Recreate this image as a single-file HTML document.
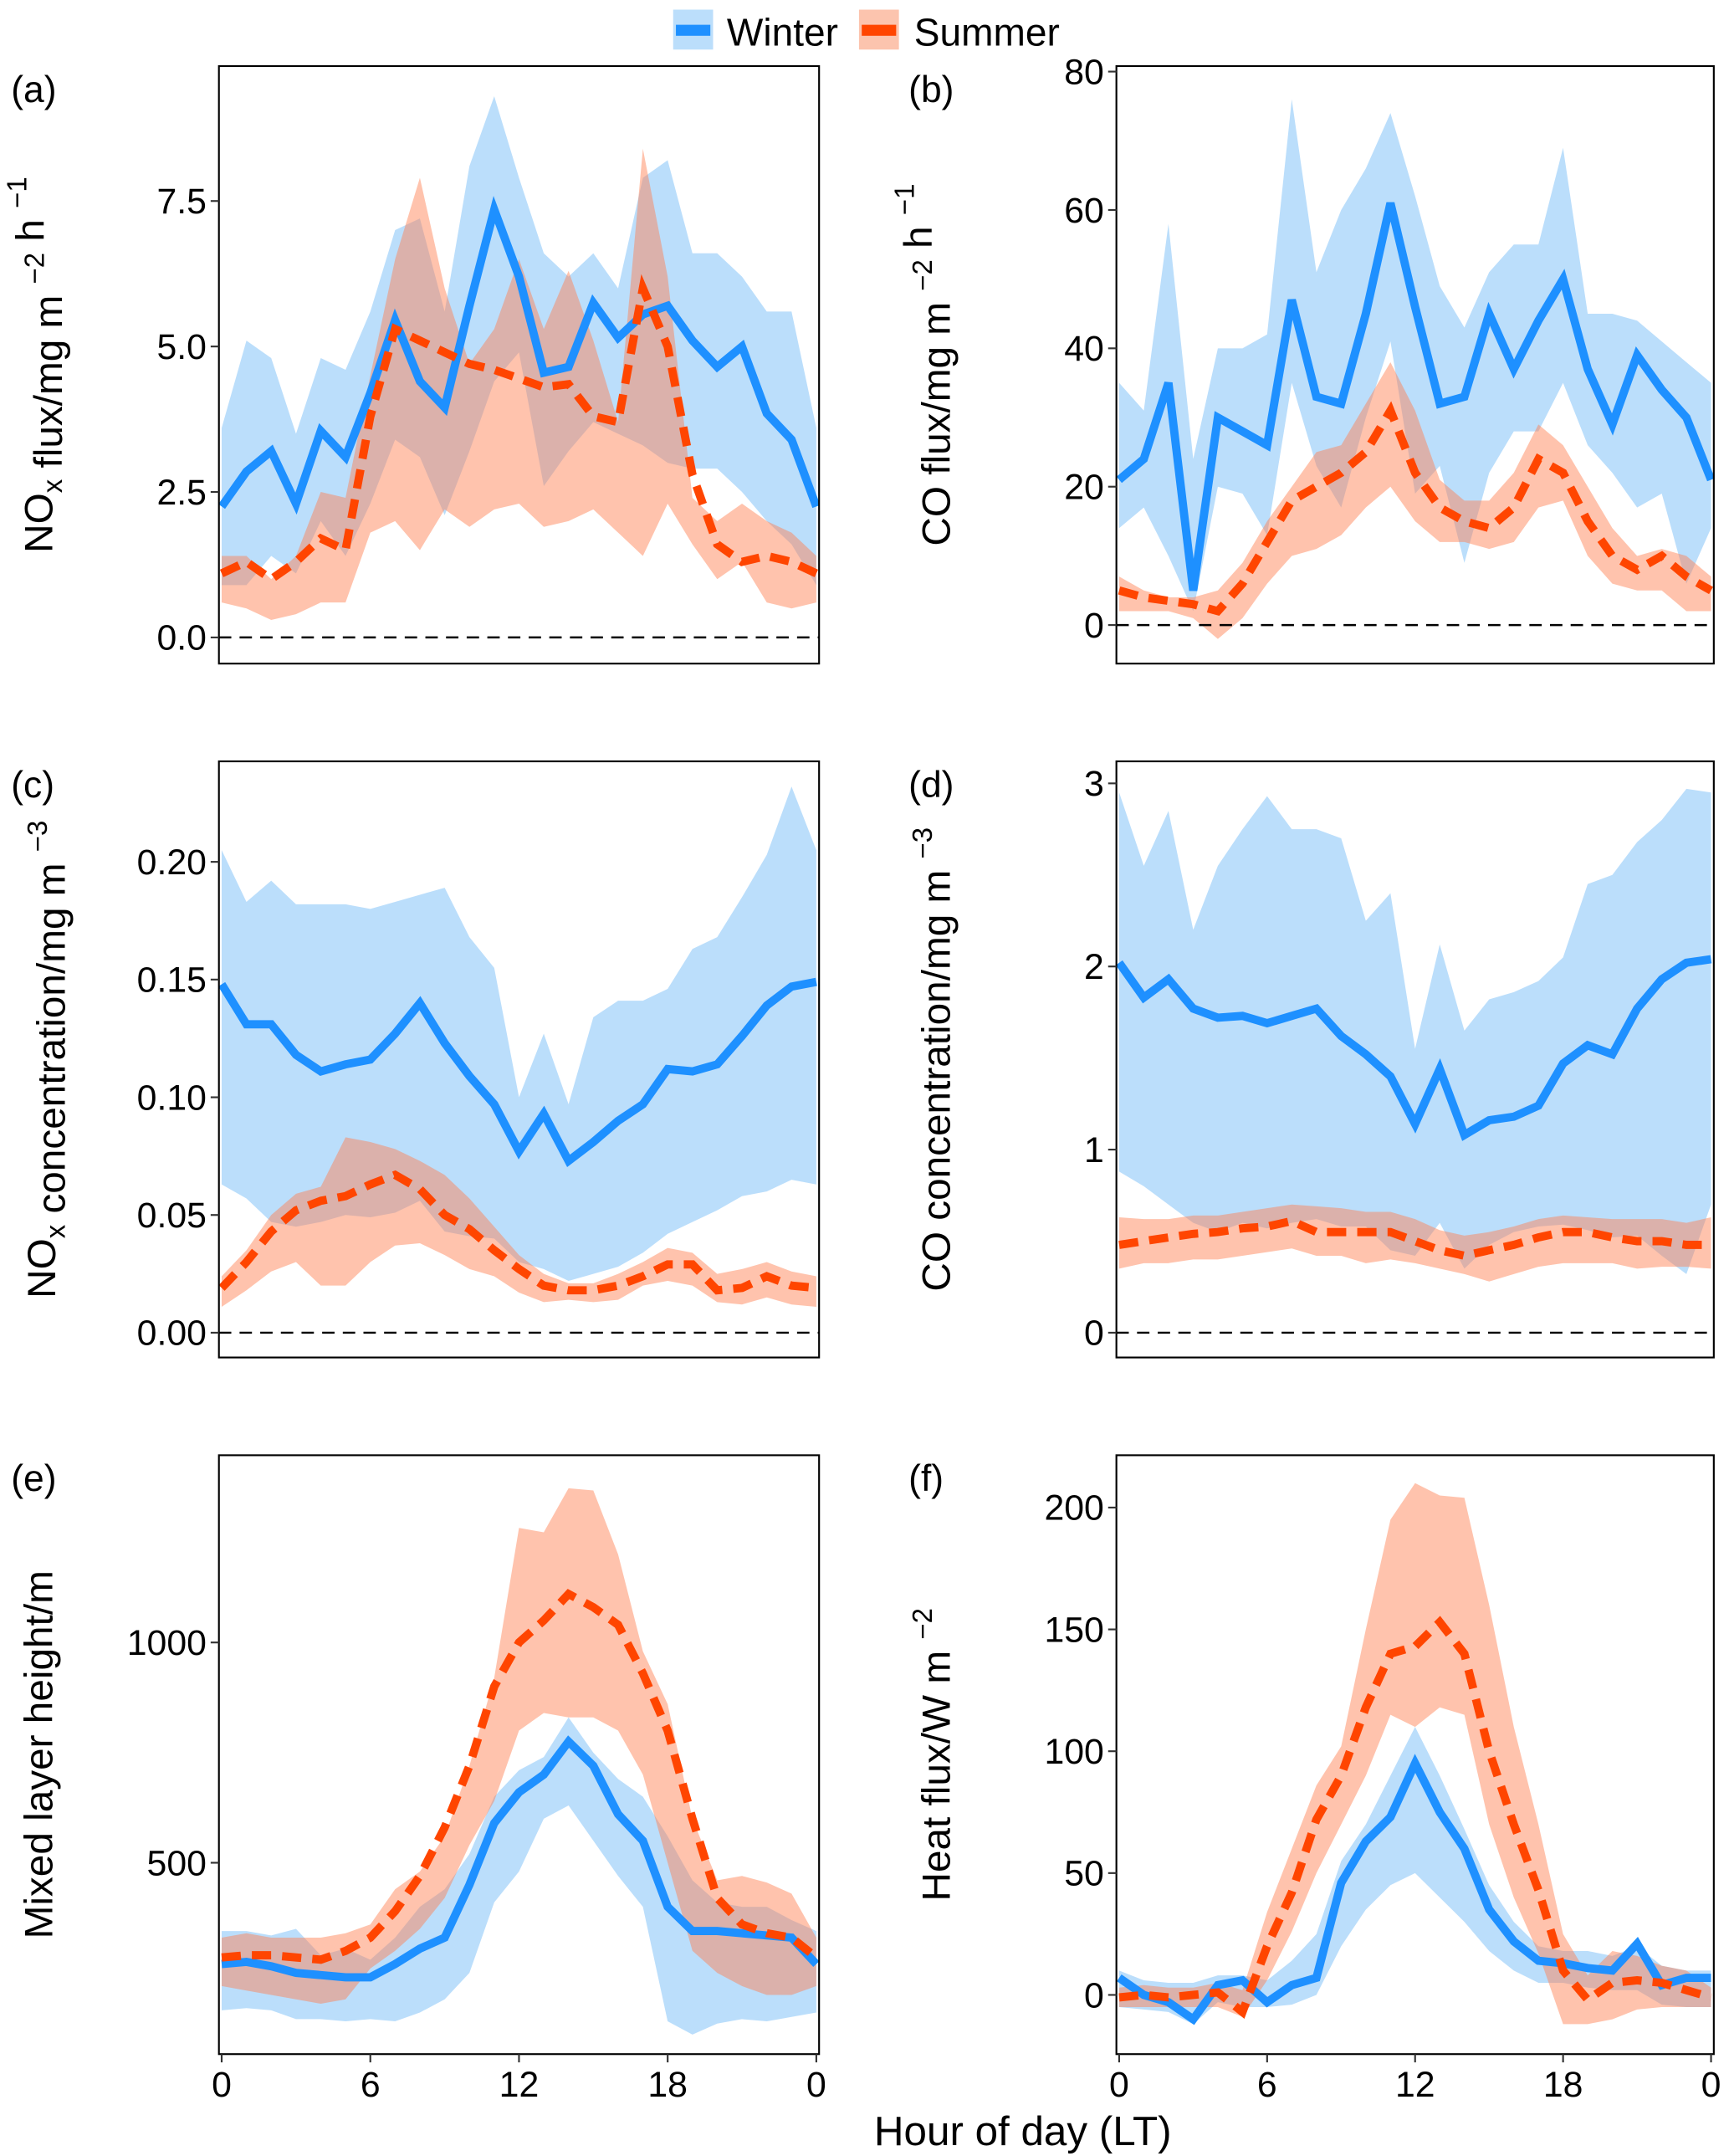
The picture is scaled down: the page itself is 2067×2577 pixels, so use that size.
<!DOCTYPE html>
<html><head><meta charset="utf-8"><style>
html,body{margin:0;padding:0;background:#fff}
svg{display:block}
text{font-family:"Liberation Sans",Arial,sans-serif;fill:#000}
</style></head><body>
<svg id="fig" xmlns="http://www.w3.org/2000/svg" width="2067" height="2577" viewBox="0 0 1256 1566">
<g id="legend">
  <g>
    <rect x="489" y="7" width="29" height="29" fill="#bbdefb"/>
    <rect x="491" y="18" width="25" height="8" fill="#1e90ff"/>
    <text x="528" y="33" font-size="28">Winter</text>
  </g>
  <g>
    <rect x="624" y="7" width="29" height="29" fill="#fcc4ae"/>
    <rect x="626" y="18" width="25" height="8" fill="#ff4500"/>
    <text x="664" y="33" font-size="28">Summer</text>
  </g>
</g>
<text x="743" y="1558" font-size="30" text-anchor="middle">Hour of day (LT)</text>
</svg>
<script>
const hours = [0,1,2,3,4,5,6,7,8,9,10,11,12,13,14,15,16,17,18,19,20,21,22,23,24];
const xTickValues = [0,6,12,18,24];
const xTickLabels = ["0","6","12","18","0"];

// (a) NOx flux
const aWin = [2.25,2.85,3.2,2.3,3.55,3.1,4.2,5.45,4.4,3.95,5.7,7.35,6.2,4.55,4.65,5.75,5.15,5.55,5.7,5.1,4.65,5.0,3.85,3.4,2.25];
const aWinHi = [3.6,5.1,4.8,3.5,4.8,4.6,5.6,7.0,7.2,5.6,8.1,9.3,7.9,6.6,6.2,6.6,6.0,7.9,8.2,6.6,6.6,6.2,5.6,5.6,3.6];
const aWinLo = [0.9,0.9,1.4,1.1,2.0,1.4,2.3,3.4,3.1,2.1,3.2,4.4,4.9,2.6,3.2,3.7,3.5,3.3,3.0,2.9,2.9,2.5,2.0,1.6,0.9];
const aSum = [1.1,1.3,1.0,1.3,1.7,1.5,3.8,5.3,5.1,4.9,4.7,4.6,4.45,4.3,4.35,3.8,3.7,6.0,5.0,2.8,1.6,1.3,1.4,1.3,1.1];
const aSumHi = [1.4,1.4,1.0,1.4,2.5,2.4,4.5,6.5,7.9,6.0,4.7,5.3,6.5,5.3,6.3,5.1,3.7,8.4,6.2,2.4,2.0,2.3,2.0,1.8,1.4];
const aSumLo = [0.6,0.5,0.3,0.4,0.6,0.6,1.8,2.0,1.5,2.2,1.9,2.2,2.3,1.9,2.0,2.2,1.8,1.4,2.3,1.6,1.0,1.3,0.6,0.5,0.6];
const aTicks = [0,2.5,5,7.5];
const aTickLabels = ["0.0","2.5","5.0","7.5"];

// (b) CO flux
const bWin = [21,24,35,5,30,28,26,47,33,32,45,61,46,32,33,45,37,44,50,37,29,39,34,30,21];
const bWinHi = [35,31,58,24,40,40,42,76,51,60,66,74,62,49,43,51,55,55,69,45,45,44,41,38,35];
const bWinLo = [14,17,10,2,20,19,13,35,23,17,30,41,19,23,9,22,28,28,35,26,22,17,19,6,14];
const bSum = [5,4,3.5,3,2,6,12,18,20,22,25,31,22,17,15,14,17,24,22,15,10,8,10,7,5];
const bSumHi = [7,5,4,4,5,9,15,20,25,26,32,38,31,21,18,18,22,29,26,20,14,10,11,10,7];
const bSumLo = [2,2,2,1,-2,1,6,10,11,13,17,20,15,12,12,11,12,17,18,10,6,5,5,2,2];
const bTicks = [0,20,40,60,80];
const bTickLabels = ["0","20","40","60","80"];

// (c) NOx concentration
const cWin = [0.148,0.131,0.131,0.118,0.111,0.114,0.116,0.127,0.140,0.123,0.109,0.097,0.077,0.093,0.073,0.081,0.090,0.097,0.112,0.111,0.114,0.126,0.139,0.147,0.149];
const cWinHi = [0.205,0.183,0.192,0.182,0.182,0.182,0.180,0.183,0.186,0.189,0.168,0.155,0.100,0.127,0.097,0.134,0.141,0.141,0.146,0.163,0.168,0.185,0.203,0.232,0.205];
const cWinLo = [0.063,0.057,0.047,0.045,0.047,0.050,0.049,0.051,0.056,0.043,0.041,0.040,0.030,0.027,0.022,0.025,0.028,0.034,0.042,0.047,0.052,0.058,0.060,0.065,0.063];
const cSum = [0.019,0.030,0.043,0.052,0.056,0.058,0.063,0.067,0.061,0.050,0.044,0.035,0.027,0.020,0.018,0.018,0.020,0.024,0.029,0.029,0.018,0.019,0.024,0.020,0.019];
const cSumHi = [0.024,0.035,0.050,0.059,0.062,0.083,0.081,0.078,0.073,0.067,0.057,0.045,0.033,0.025,0.021,0.021,0.025,0.030,0.036,0.034,0.025,0.027,0.030,0.026,0.024];
const cSumLo = [0.011,0.018,0.026,0.030,0.020,0.020,0.030,0.037,0.038,0.033,0.027,0.024,0.017,0.013,0.014,0.013,0.014,0.020,0.022,0.020,0.013,0.012,0.015,0.012,0.011];
const cTicks = [0,0.05,0.10,0.15,0.20];
const cTickLabels = ["0.00","0.05","0.10","0.15","0.20"];

// (d) CO concentration
const dWin = [2.02,1.83,1.93,1.77,1.72,1.73,1.69,1.73,1.77,1.62,1.52,1.40,1.14,1.44,1.08,1.16,1.18,1.24,1.47,1.57,1.52,1.77,1.93,2.02,2.04];
const dWinHi = [2.95,2.55,2.85,2.20,2.55,2.75,2.93,2.75,2.75,2.70,2.25,2.40,1.55,2.12,1.65,1.82,1.86,1.92,2.05,2.45,2.50,2.68,2.80,2.97,2.95];
const dWinLo = [0.88,0.80,0.70,0.60,0.55,0.60,0.57,0.60,0.62,0.58,0.58,0.45,0.42,0.60,0.35,0.48,0.55,0.58,0.59,0.56,0.52,0.53,0.42,0.32,0.70];
const dSum = [0.48,0.50,0.52,0.54,0.55,0.57,0.58,0.61,0.55,0.55,0.55,0.55,0.50,0.45,0.42,0.45,0.48,0.52,0.55,0.55,0.52,0.50,0.50,0.48,0.48];
const dSumHi = [0.63,0.62,0.62,0.64,0.64,0.66,0.68,0.70,0.69,0.68,0.66,0.66,0.62,0.56,0.53,0.55,0.58,0.62,0.64,0.63,0.62,0.62,0.62,0.60,0.63];
const dSumLo = [0.35,0.38,0.38,0.40,0.40,0.42,0.44,0.46,0.42,0.42,0.38,0.40,0.38,0.35,0.32,0.28,0.32,0.36,0.38,0.38,0.38,0.35,0.36,0.36,0.35];
const dTicks = [0,1,2,3];
const dTickLabels = ["0","1","2","3"];

// (e) Mixed layer height
const eWin = [270,275,265,250,245,240,240,270,305,330,450,590,660,700,775,720,610,550,400,345,345,340,335,330,270];
const eWinHi = [345,345,335,350,290,305,280,330,400,440,520,650,710,740,830,750,690,650,560,460,410,400,400,370,345];
const eWinLo = [165,170,165,145,145,140,145,140,160,190,250,410,480,600,630,550,470,400,140,110,135,145,140,150,160];
const eSum = [285,290,290,285,280,300,330,390,470,580,720,900,1000,1050,1110,1080,1040,930,800,600,420,360,340,330,285];
const eSumHi = [330,340,330,330,330,340,360,440,480,560,720,920,1260,1250,1350,1345,1200,980,860,600,460,470,455,430,330];
const eSumLo = [220,210,200,190,180,190,260,300,350,420,540,640,800,840,830,830,800,700,500,300,250,220,200,200,220];
const eTicks = [500,1000];
const eTickLabels = ["500","1000"];

// (f) Heat flux
const fWin = [7,0,-3,-10,4,6,-3,4,7,46,63,73,95,75,60,35,22,14,13,11,10,21,4,7,7];
const fWinHi = [10,6,5,5,8,8,6,14,25,55,70,90,110,90,68,45,30,20,18,18,16,20,12,10,10];
const fWinLo = [-5,-6,-7,-12,-3,-5,-5,-4,0,20,35,45,50,40,30,18,10,5,5,3,2,2,-4,-5,-5];
const fSum = [-1,0,-1,0,1,-7,20,42,72,90,118,140,143,153,140,100,70,43,10,-2,5,6,5,2,-1];
const fSumHi = [3,4,3,3,5,2,34,60,86,102,150,195,210,205,204,160,110,70,25,8,18,16,12,10,3];
const fSumLo = [-5,-5,-5,-5,-5,-9,6,26,50,70,90,115,110,118,115,70,40,17,-12,-12,-10,-6,-5,-5,-5];
const fTicks = [0,50,100,150,200];
const fTickLabels = ["0","50","100","150","200"];

const NS = "http://www.w3.org/2000/svg";
const svg = document.getElementById('fig');
function mk(tag, attrs, parent){
  const e = document.createElementNS(NS, tag);
  for (const k in attrs) e.setAttribute(k, attrs[k]);
  (parent||svg).appendChild(e);
  return e;
}

const panels = [
  {id:'a', box:[159,48,595,482], x0:161, x24:593, v0:0, p0:463, v1:7.5, p1:146, win:aWin, winHi:aWinHi, winLo:aWinLo, sum:aSum, sumHi:aSumHi, sumLo:aSumLo, ticks:aTicks, tl:aTickLabels, zero:true, xt:false,
   title:[["NO",0],["x",1],[" flux/mg m ",0],["−2",2],[" h ",0],["−1",2]], tx:38, label:"(a)"},
  {id:'b', box:[811,48,1245,482], x0:813, x24:1243, v0:0, p0:454, v1:80, p1:52, win:bWin, winHi:bWinHi, winLo:bWinLo, sum:bSum, sumHi:bSumHi, sumLo:bSumLo, ticks:bTicks, tl:bTickLabels, zero:true, xt:false,
   title:[["CO flux/mg m ",0],["−2",2],[" h ",0],["−1",2]], tx:690, label:"(b)"},
  {id:'c', box:[159,553,595,986], x0:161, x24:593, v0:0, p0:968, v1:0.2, p1:626, win:cWin, winHi:cWinHi, winLo:cWinLo, sum:cSum, sumHi:cSumHi, sumLo:cSumLo, ticks:cTicks, tl:cTickLabels, zero:true, xt:false,
   title:[["NO",0],["x",1],[" concentration/mg m ",0],["−3",2]], tx:40, label:"(c)"},
  {id:'d', box:[811,553,1245,986], x0:813, x24:1243, v0:0, p0:968, v1:3, p1:569, win:dWin, winHi:dWinHi, winLo:dWinLo, sum:dSum, sumHi:dSumHi, sumLo:dSumLo, ticks:dTicks, tl:dTickLabels, zero:true, xt:false,
   title:[["CO concentration/mg m ",0],["−3",2]], tx:690, label:"(d)"},
  {id:'e', box:[159,1057,595,1492], x0:161, x24:593, v0:500, p0:1353, v1:1000, p1:1193, win:eWin, winHi:eWinHi, winLo:eWinLo, sum:eSum, sumHi:eSumHi, sumLo:eSumLo, ticks:eTicks, tl:eTickLabels, zero:false, xt:true,
   title:[["Mixed layer height/m",0]], tx:38, label:"(e)"},
  {id:'f', box:[811,1057,1245,1492], x0:813, x24:1243, v0:0, p0:1449, v1:200, p1:1095, win:fWin, winHi:fWinHi, winLo:fWinLo, sum:fSum, sumHi:fSumHi, sumLo:fSumLo, ticks:fTicks, tl:fTickLabels, zero:false, xt:true,
   title:[["Heat flux/W m ",0],["−2",2]], tx:690, label:"(f)"}
];

panels.forEach(p=>{
  const [L,T,R,B] = p.box;
  const xs = h => p.x0 + (h/24)*(p.x24-p.x0);
  const ys = v => p.p0 + (v-p.v0)/(p.v1-p.v0)*(p.p1-p.p0);
  const g = mk('g', {});
  
  
  const clipId = 'clip-' + p.id;
  const cp = mk('clipPath', {id:clipId}, g);
  mk('rect', {x:L, y:T, width:R-L, height:B-T}, cp);
  const plot = mk('g', {'clip-path':'url(#'+clipId+')'}, g);
  function band(hi, lo, fill, op, name){
    let d = 'M';
    hours.forEach((h,i)=>{ d += (i?' L':'') + xs(h).toFixed(1)+','+ys(hi[i]).toFixed(1); });
    for (let i=hours.length-1;i>=0;i--) d += ' L'+xs(hours[i]).toFixed(1)+','+ys(lo[i]).toFixed(1);
    const e = mk('path', {d:d+' Z', fill:fill, 'fill-opacity':op, stroke:'none'}, plot);
    
    
  }
  function line(vals, color, dash, name){
    const pts = hours.map((h,i)=>xs(h).toFixed(1)+','+ys(vals[i]).toFixed(1)).join(' ');
    const e = mk('polyline', {points:pts, fill:'none', stroke:color, 'stroke-width':6, 'stroke-linejoin':'miter', 'stroke-dasharray':dash||'none'}, plot);
    
    
  }
  band(p.winHi, p.winLo, '#bbdefb', 1, 'winter-range-band');
  band(p.sumHi, p.sumLo, '#ff7f50', 0.47, 'summer-range-band');
  if (p.zero){
    const z = mk('line', {x1:L, x2:R, y1:ys(0), y2:ys(0), stroke:'#000', 'stroke-width':1.5, 'stroke-dasharray':'9,6'}, plot);
    
    
  }
  line(p.win, '#1e90ff', null, 'winter-line');
  line(p.sum, '#ff4500', '14,8', 'summer-line');
  const box = mk('rect', {x:L, y:T, width:R-L, height:B-T, fill:'none', stroke:'#000', 'stroke-width':1.3}, g);
  
  
  p.ticks.forEach((v,i)=>{
    const y = ys(v);
    mk('line', {x1:L-6, x2:L, y1:y, y2:y, stroke:'#333', 'stroke-width':1.3}, g);
    const t = mk('text', {x:L-9, y:y+9, 'font-size':26, 'text-anchor':'end'}, g);
    t.textContent = p.tl[i];
    
    
  });
  if (p.xt){
    xTickValues.forEach((h,i)=>{
      const x = xs(h);
      mk('line', {x1:x, x2:x, y1:B, y2:B+6, stroke:'#333', 'stroke-width':1.3}, g);
      const t = mk('text', {x:x, y:B+31, 'font-size':26, 'text-anchor':'middle'}, g);
      t.textContent = xTickLabels[i];
      
      
    });
  }
  const lab = mk('text', {x:L-151, y:T+26, 'font-size':27}, g);
  lab.textContent = p.label;
  
  
  const cy = (T+B)/2;
  const tt = mk('text', {transform:'translate('+p.tx+','+cy+') rotate(-90)', 'font-size':29, 'text-anchor':'middle'}, g);
  
  
  p.title.forEach(([s,k])=>{
    const ts = mk('tspan', {}, tt);
    if (k===1){ ts.setAttribute('font-size','20'); ts.setAttribute('dy','7'); }
    else if (k===2){ ts.setAttribute('font-size','20'); ts.setAttribute('dy','-13'); }
    ts.textContent = s;
    if (k!==0){
      const back = mk('tspan', {dy: k===1?'-7':'13', 'font-size':29}, tt);
      back.textContent = '';
    }
  });
});
</script>
</body></html>
